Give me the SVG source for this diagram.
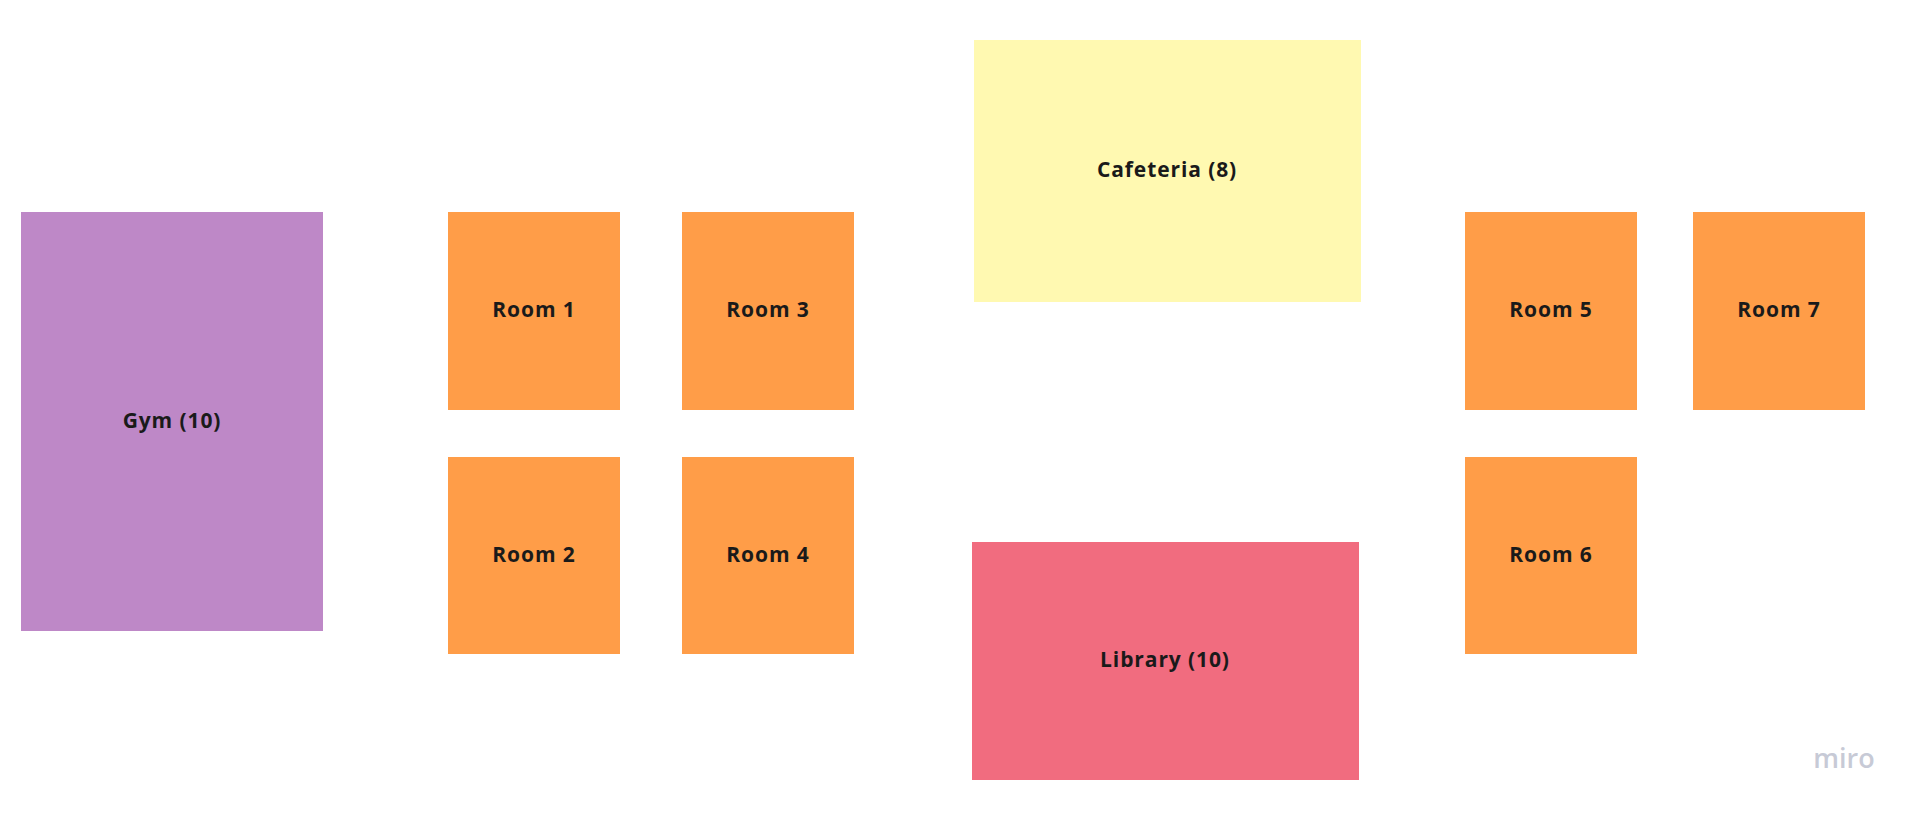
<svg xmlns="http://www.w3.org/2000/svg" width="1919" height="813" viewBox="0 0 1919 813">
<style>
.lbl{font-family:"Open Sans","Noto Sans","Liberation Sans",sans-serif;font-size:21px;font-weight:700;letter-spacing:0.9px;fill:#1a1a1a;text-anchor:middle;dominant-baseline:central}
.room{fill:#ff9d48}
</style>
<rect width="1919" height="813" fill="#ffffff"/>
<g id="connectors"></g>
<g id="gym"><rect x="21" y="212" width="302" height="419" fill="#be88c7"/><text class="lbl" x="172" y="420">Gym (10)</text></g>
<g id="room1"><rect class="room" x="448" y="212" width="172" height="198"/><text class="lbl" x="534" y="309">Room 1</text></g>
<g id="room2"><rect class="room" x="448" y="457" width="172" height="197"/><text class="lbl" x="534" y="554">Room 2</text></g>
<g id="room3"><rect class="room" x="682" y="212" width="172" height="198"/><text class="lbl" x="768" y="309">Room 3</text></g>
<g id="room4"><rect class="room" x="682" y="457" width="172" height="197"/><text class="lbl" x="768" y="554">Room 4</text></g>
<g id="cafeteria"><rect x="974" y="40" width="387" height="262" fill="#fff9b1"/><text class="lbl" x="1167" y="169">Cafeteria (8)</text></g>
<g id="library"><rect x="972" y="542" width="387" height="238" fill="#f16c7f"/><text class="lbl" x="1165" y="659">Library (10)</text></g>
<g id="room5"><rect class="room" x="1465" y="212" width="172" height="198"/><text class="lbl" x="1551" y="309">Room 5</text></g>
<g id="room6"><rect class="room" x="1465" y="457" width="172" height="197"/><text class="lbl" x="1551" y="554">Room 6</text></g>
<g id="room7"><rect class="room" x="1693" y="212" width="172" height="198"/><text class="lbl" x="1779" y="309">Room 7</text></g>
<text x="1844" y="768" font-family="'Open Sans','Noto Sans',sans-serif" font-size="27" font-weight="600" fill="#c7cad6" text-anchor="middle">miro</text>
</svg>
